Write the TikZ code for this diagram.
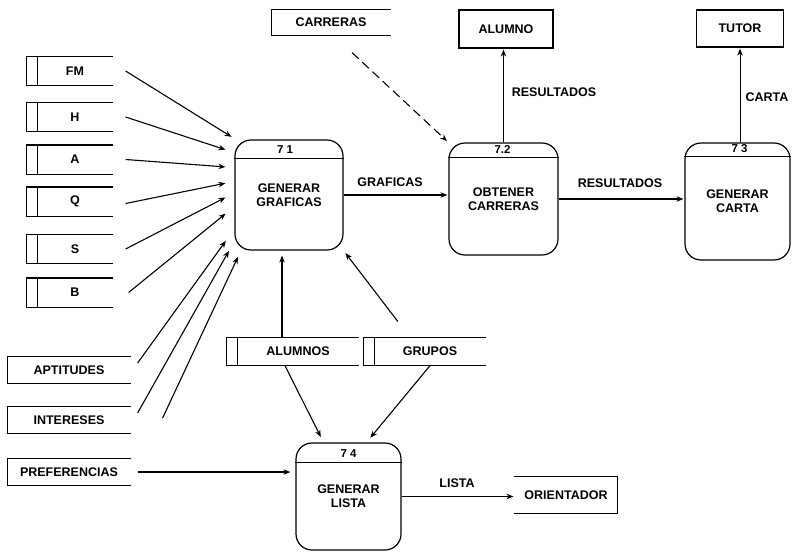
\documentclass[tikz,border=0pt]{standalone}
\usepackage{fontspec}
\setmainfont{Liberation Sans}
\usetikzlibrary{arrows.meta,calc}
\begin{document}
\begin{tikzpicture}[x=1pt,y=-1pt,
  font=\fontsize{12.5}{14}\selectfont\bfseries,
  line width=1.2pt,
  >={Stealth[length=7pt,width=5.5pt]},
  proc/.style={draw, rounded corners=16pt, align=center, inner sep=0pt},
  pnum/.style={inner sep=1pt, font=\fontsize{11.5}{12}\selectfont\bfseries},
  store/.style={minimum height=28pt, inner sep=0pt},
  ent/.style={minimum height=26pt, inner sep=0pt},
  box/.style={draw, inner sep=0pt},
  flow/.style={->, line width=1.1pt, shorten >=1pt},
  lbl/.style={inner sep=1pt}]
\useasboundingbox (0,0) rectangle (792,552);

% processes
\node[proc, minimum width=108pt, minimum height=110pt] (p1) at (289,195) {GENERAR\\GRAFICAS};
\node[proc, minimum width=109pt, minimum height=112pt] (p2) at (503.5,199) {OBTENER\\CARRERAS};
\node[proc, minimum width=105pt, minimum height=117pt] (p3) at (737.5,201.5) {GENERAR\\CARTA};
\node[proc, minimum width=105pt, minimum height=107pt] (p4) at (348.5,496.5) {GENERAR\\LISTA};
\draw ($(p1.north west)+(0,19)$) -- ($(p1.north east)+(0,19)$);
\draw ($(p2.north west)+(0,15)$) -- ($(p2.north east)+(0,15)$);
\draw ($(p3.north west)+(0,14)$) -- ($(p3.north east)+(0,14)$);
\draw ($(p4.north west)+(0,20)$) -- ($(p4.north east)+(0,20)$);
\node[pnum] (n1) at ($(p1.north)+(-4,10.5)$) {7 1};
\node[pnum] (n2) at ($(p2.north)+(-1,7)$) {7.2};
\node[pnum] (n3) at ($(p3.north)+(2,6.5)$) {7 3};
\node[pnum] (n4) at ($(p4.north)+(0,11)$) {7 4};

% data stores (double left bar, open right)
\node[store, minimum width=74pt] (fm) at (75,71) {FM};
\node[store, minimum width=74pt] (h) at (75,117) {H};
\node[store, minimum width=74pt] (a) at (75,159.5) {A};
\node[store, minimum width=74pt] (q) at (75,201.5) {Q};
\node[store, minimum width=74pt] (s) at (75,249) {S};
\node[store, minimum width=74pt] (b) at (75,292.5) {B};
\node[store, minimum width=120pt, minimum height=27pt] (alumnos) at (298,351.5) {ALUMNOS};
\node[store, minimum width=110pt, minimum height=27pt] (grupos) at (430,351.5) {GRUPOS};
\foreach \n in {fm,h,a,q,s,b,alumnos,grupos}
  \draw (\n.north east) -- ([xshift=-11pt]\n.north west) -- ([xshift=-11pt]\n.south west) -- (\n.south east)
        (\n.north west) -- (\n.south west);

% open entities (left side only)
\node[ent, minimum width=118pt, minimum height=25pt] (carr) at (331,22.5) {CARRERAS};
\node[ent, minimum width=122pt] (apt) at (69,370) {APTITUDES};
\node[ent, minimum width=122pt] (int) at (69,420) {INTERESES};
\node[ent, minimum width=122pt] (pref) at (69,472) {PREFERENCIAS};
\foreach \n in {carr,apt,int,pref}
  \draw (\n.north east) -- (\n.north west) -- (\n.south west) -- (\n.south east);

% external entities
\node[box, minimum width=94pt, minimum height=38pt] (alumno) at (506,29) {ALUMNO};
\node[box, minimum width=87pt, minimum height=37pt] (tutor) at (740,28.5) {TUTOR};
\node[inner sep=0pt, minimum width=102pt, minimum height=36pt] (orient) at (566,495) {ORIENTADOR};
\draw (orient.north west) -- (orient.north east) -- (orient.south east) -- (orient.south west);

% flows into 7.1
\draw[flow] ([xshift=13pt]fm.east) -- ([xshift=-2pt,yshift=2pt]p1.north west);
\draw[flow] ([xshift=13pt]h.east) -- ([xshift=-8pt,yshift=45pt]p1.west);
\draw[flow] ([xshift=13pt]a.east) -- ([xshift=-8pt,yshift=28pt]p1.west);
\draw[flow] ([xshift=13pt,yshift=-2pt]q.east) -- ([xshift=-8pt,yshift=12pt]p1.west);
\draw[flow] ([xshift=13pt]s.east) -- ([xshift=-8pt,yshift=-2pt]p1.west);
\draw[flow] ([xshift=16pt]b.east) -- ([xshift=-8pt,yshift=-18pt]p1.west);
\draw[flow] ([xshift=7pt,yshift=7pt]apt.east) -- ([xshift=-8pt,yshift=-45pt]p1.west);
\draw[flow] ([xshift=7pt,yshift=7pt]int.east) -- ([xshift=-5pt,yshift=-55pt]p1.west);
\draw[flow] ([xshift=32pt,yshift=2pt]int.east) -- ([xshift=4pt,yshift=-61pt]p1.west);
\draw[flow, shorten >=5pt] ([xshift=-16pt]alumnos.north) -- ([xshift=-16pt]alumnos.north |- p1.south);
\draw[flow, shorten <=20pt, shorten >=3pt] ([xshift=-20pt]grupos.north) -- (p1.south east);

% other flows
\draw[flow] (p1.east) -- (p1.east -| p2.west);
\node[lbl] (lgraf) at (390,182) {GRAFICAS};
\draw[flow, dash pattern=on 9pt off 5pt, shorten >=2pt] ([xshift=21pt,yshift=-17pt]carr.south) -- (p2.north west);
\draw[flow] (p2.north) -- (p2.north |- alumno.south);
\node[lbl] (lres1) at (554,92) {RESULTADOS};
\draw[flow] (p2.east) -- (p2.east -| p3.west);
\node[lbl] (lres2) at (620,183) {RESULTADOS};
\draw[flow, line width=0.9pt] (tutor.south |- p3.north) -- (tutor.south);
\node[lbl] (lcarta) at (767,97) {CARTA};

% flows into 7.4
\draw[flow, shorten >=6pt] ([xshift=-13pt]alumnos.south) -- ([xshift=-25pt]p4.north);
\draw[flow, shorten >=6pt] (grupos.south) -- ([xshift=18pt]p4.north);
\draw[flow, shorten >=5pt] ([xshift=7pt]pref.east) -- (pref.east -| p4.west);
\draw[flow] (p4.east) -- (p4.east -| orient.west);
\node[lbl] (llista) at (457,483) {LISTA};
\end{tikzpicture}
\end{document}
